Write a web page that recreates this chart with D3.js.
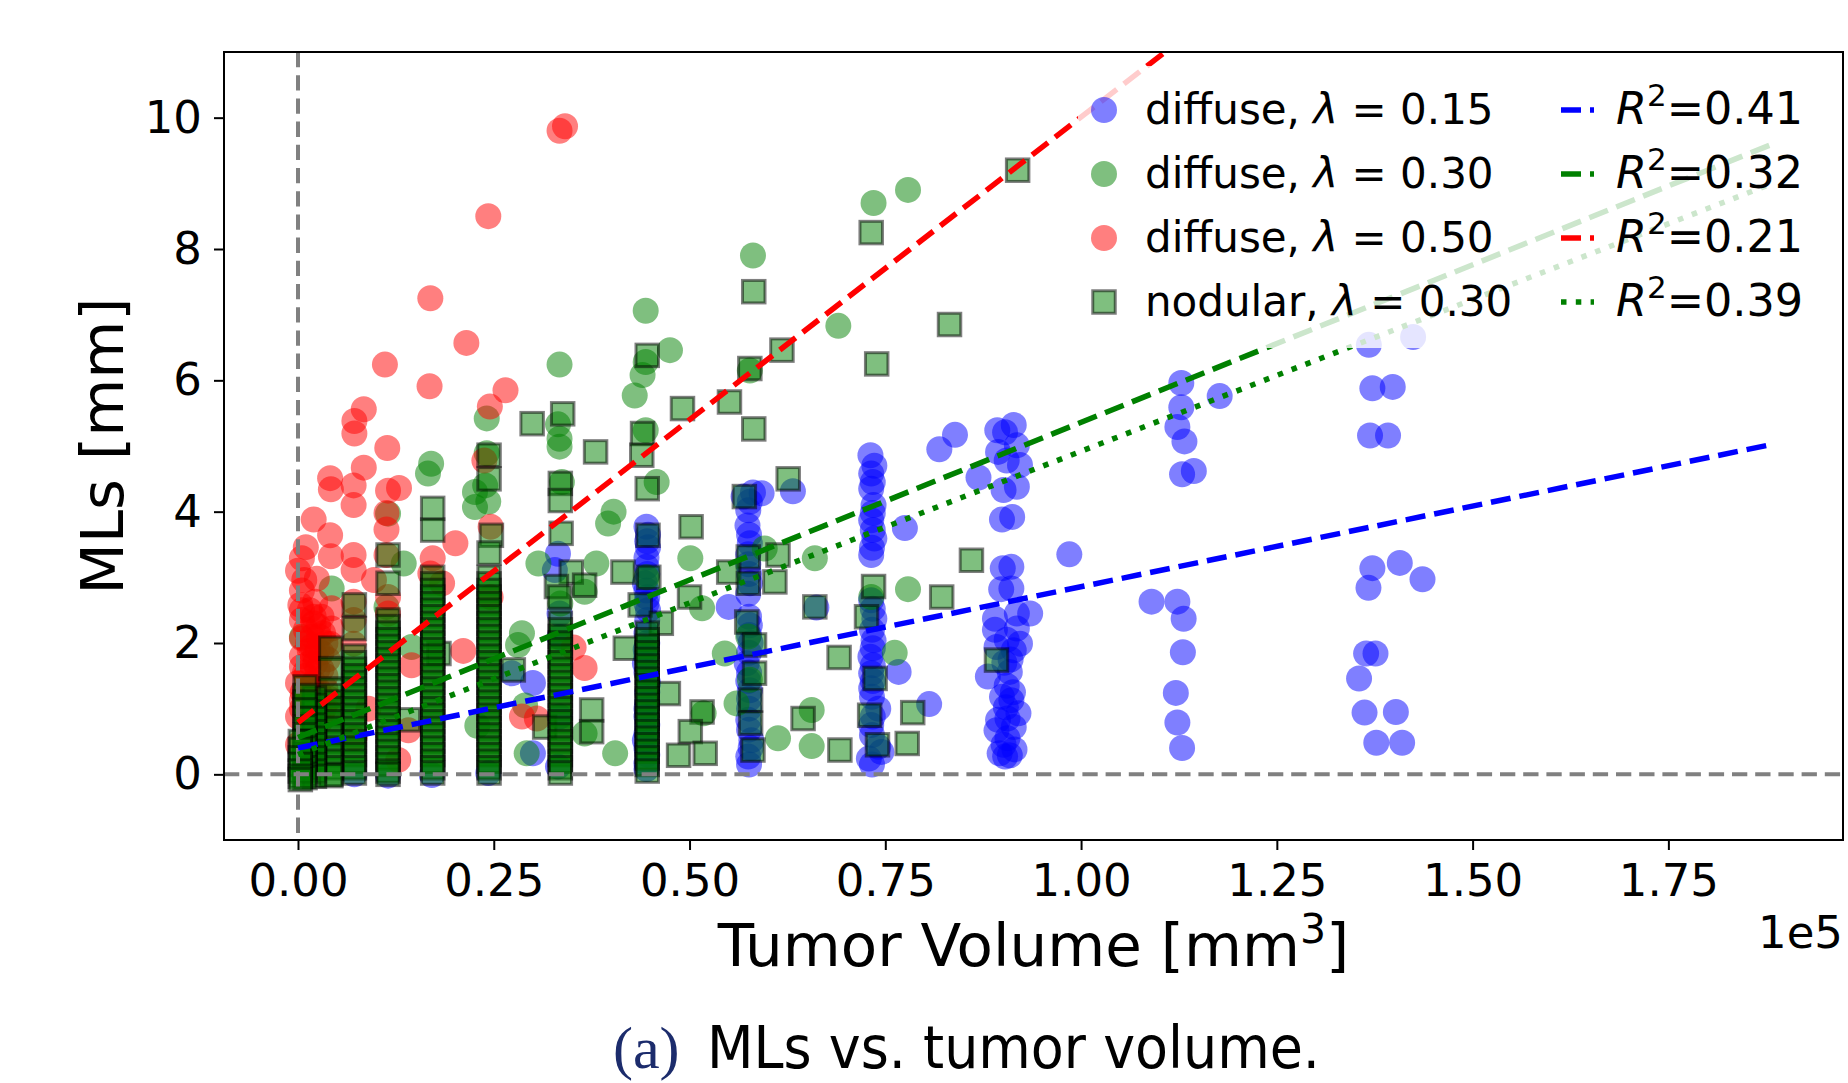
<!DOCTYPE html>
<html>
<head>
<meta charset="utf-8">
<script src="https://cdn.jsdelivr.net/npm/d3@7/dist/d3.min.js"></script>
<style>
  html, body { margin: 0; padding: 0; background: #fff; }
  svg { display: block; }
  text { font-family: "DejaVu Sans", sans-serif; fill: #000; }
</style>
</head>
<body>
<svg id="chart" width="1848" height="1083"></svg>
<script>
// ---------------- DATA (x = tumor volume in mm^3, y = MLs in mm) ----------------
const xTicks = [0, 25000, 50000, 75000, 100000, 125000, 150000, 175000];
const yTicks = [0, 2, 4, 6, 8, 10];

const seriesKinds   = ["diffuse", "diffuse", "diffuse", "nodular"];
const seriesLambdas = ["0.15", "0.30", "0.50", "0.30"];

const fitR2          = ["0.41", "0.32", "0.21", "0.39"];
const fitIntercepts  = [0.40, 0.56, 0.79, 0.30];      // mm at volume 0
const fitSlopes      = [2.457, 4.80, 9.22, 4.62];     // mm per 1e5 mm^3
const fitVolumeRange = [0, 188000];

const diffuse015 = [
  [33200,3.36],[32800,3.11],[33400,2.45],[33400,2.09],[33400,0.88],[33200,0.12],[27300,1.54],[30000,1.39],[30000,0.32],
  [24300,0.02],[11500,-0.02],[17100,-0.01],[7200,0.00],
  [44500,3.77],[44700,3.65],[44600,3.55],[44700,3.46],[44500,3.30],[44500,3.16],[44600,3.05],[44300,2.91],[44500,2.80],
  [44600,2.70],[44500,2.60],[44700,2.50],[44600,2.35],[44500,2.15],[44600,2.00],[44400,1.90],[44500,1.80],[44300,1.69],
  [44500,1.55],[44700,1.39],[44600,1.25],[44600,1.10],[44500,1.00],[44500,0.88],[44600,0.75],[44500,0.62],[44300,0.52],
  [44500,0.40],[44600,0.30],[44500,0.17],[44500,0.08],
  [56900,4.23],[58100,4.29],[59200,4.28],[57700,4.15],[57500,4.02],[57400,3.79],[57600,3.65],[57700,3.52],[57500,3.35],
  [57500,3.20],[57600,3.05],[57700,2.91],[57500,2.75],[55000,2.55],[57600,2.40],[57700,2.27],[57600,2.12],[57800,2.00],
  [57600,1.85],[57300,1.69],[57600,1.55],[57500,1.42],[57700,1.28],[57600,1.15],[57600,1.00],[57500,0.83],[57600,0.68],
  [57900,0.52],[57800,0.40],[57500,0.27],[57600,0.15],
  [63200,4.31],[66200,2.54],[76700,1.56],[80600,1.07],[77500,3.75],[81900,4.95],[83900,5.17],[86900,4.52],[98500,3.35],
  [73100,4.86],[73600,4.70],[73200,4.58],[73400,4.45],[73200,4.35],[73500,4.10],[73400,3.98],[73200,3.87],[73400,3.72],
  [73600,3.59],[73300,3.45],[73200,3.34],[73200,2.65],[73400,2.52],[73600,2.37],[73300,2.20],[73500,2.04],[73400,1.92],
  [73100,1.79],[73400,1.66],[73200,1.54],[73400,1.42],[73200,1.31],[73300,1.18],[74100,1.00],[73400,0.88],[73200,0.75],
  [73300,0.60],[74100,0.42],[72900,0.24],[74500,0.34],[73300,0.15],
  [89300,5.24],[91400,5.32],[90300,5.21],[91800,5.01],[89400,4.91],[90500,4.78],[92200,4.71],[90100,4.33],[91800,4.38],
  [89900,3.88],[91200,3.92],[90000,3.14],[91100,3.16],[89800,2.82],[91100,2.83],[89000,2.37],[91800,2.45],[93500,2.45],
  [89000,2.20],[91800,2.22],[92200,1.99],[89200,1.94],[91400,1.89],[90500,2.05],[88100,1.49],[90900,1.56],[90200,1.70],
  [89900,1.18],[91100,1.13],[90500,1.35],[91300,1.25],[92000,0.93],[89400,0.83],[90400,1.02],[91400,0.72],[89200,0.67],
  [90600,0.85],[89600,0.32],[90900,0.29],[90300,0.27],[90600,0.55],[91000,1.75],[90100,0.45],[91500,0.38],
  [112800,5.96],[117700,5.76],[112800,5.59],[112300,5.29],[113200,5.07],[112900,4.57],[114400,4.62],[109000,2.63],
  [112300,2.63],[113100,2.37],[113000,1.86],[112100,1.24],[112300,0.79],[112900,0.40],
  [136750,6.54],[142400,6.66],[137200,5.88],[139800,5.90],[136900,5.16],[139200,5.16],[137200,3.14],[140700,3.22],
  [143600,2.97],[136700,2.84],[136400,1.84],[137600,1.84],[135500,1.46],[136200,0.94],[140200,0.95],[137700,0.48],[141000,0.48]
];

const diffuse030 = [
  [77900,8.90],[73500,8.70],[58100,7.90],[44400,7.06],[69000,6.83],[47500,6.46],[44400,6.28],[44000,6.08],[43000,5.77],
  [57700,6.15],[44400,5.24],[33400,6.24],[24100,5.42],[33200,5.33],[33400,5.11],[33400,4.99],[45800,4.45],[40300,4.00],
  [39600,3.82],[24100,4.89],[23900,4.40],[24300,4.15],[30700,3.21],[38100,3.21],[50100,3.29],[51600,2.53],[28600,2.15],
  [28100,1.97],[29000,1.05],[36600,2.78],[36600,0.62],[40500,0.32],[29200,0.32],[51800,0.93],[54500,1.84],[17000,4.73],
  [16600,4.58],[22600,4.30],[22600,4.07],[11500,3.97],[13500,3.21],[4300,2.83],[500,2.09],[14500,1.94],[22900,0.74],
  [11300,2.55],[59600,3.44],[66000,3.29],[77900,2.82],[76200,1.85],[56000,1.08],[65600,0.98],[61300,0.55],[65600,0.43],
  [73200,2.70],[57700,1.44],[33700,4.45],[33500,2.60],[44500,3.00],[57500,2.10]
];

const diffuse050 = [
  [33400,9.80],[34100,9.87],[24300,8.50],[16900,7.25],[21500,6.57],[11100,6.24],[16800,5.91],[26500,5.85],[24500,5.60],
  [8400,5.56],[7200,5.38],[7200,5.19],[11400,4.97],[8400,4.67],[4100,4.51],[4200,4.34],[7100,4.40],[7100,4.10],[11500,4.32],
  [12900,4.36],[11300,3.98],[11300,3.73],[2000,3.88],[4100,3.64],[1000,3.46],[500,3.29],[4200,3.32],[7100,3.34],[7100,3.11],
  [800,2.96],[2400,2.98],[20100,3.52],[17200,3.29],[11300,3.34],[300,2.58],[2200,2.63],[4300,2.53],[7100,2.63],[7100,2.35],
  [500,2.35],[2600,2.25],[4300,2.22],[500,2.07],[1500,1.89],[500,1.64],[2200,1.69],[4100,1.99],[7100,1.99],[0,0.88],
  [0,1.39],[500,1.13],[11500,2.70],[11500,2.45],[9700,2.96],[16900,3.06],[18400,2.91],[14500,1.66],[21100,1.88],[14100,0.67],
  [12800,0.22],[23800,4.78],[24600,3.77],[24600,2.70],[28600,0.88],[36600,1.62],[35200,1.93],[30500,0.85],
  [1000,1.50],[2000,1.40],[3000,1.60],[1200,1.20],[2500,1.05],[3500,1.30],[800,0.60],[0,0.45],[1500,0.30],[3000,0.90],
  [4000,1.15],[500,2.80],[0,3.10],[1800,2.10],[7200,0.55],[9000,1.00],[2000,2.40],[3000,1.85],
  [500,1.00],[1500,1.10],[2500,1.30],[3500,1.50],[500,1.80],[1500,1.70],[2500,1.90],[3500,2.00],[1000,2.20],[2000,2.30],
  [3000,2.40],[500,2.50],[1500,2.50],[2500,1.60],[3800,1.75],[1200,0.90],[2800,0.80],[4000,0.95],[1800,1.95],[3200,2.15],
  [600,1.25],[1700,1.35],[2900,1.20],[900,1.55],[2200,1.80],[3300,1.00],[1300,2.00],[2700,2.10]
];

// nodular: scattered squares
const nodularScattered = [
  [91900,9.20],[73200,8.25],[58200,7.35],[83200,6.85],[61800,6.46],[44600,6.38],[73900,6.25],[57700,6.18],[55100,5.67],
  [49100,5.57],[33800,5.49],[29900,5.34],[58200,5.26],[44000,5.19],[43900,4.86],[38000,4.91],[62600,4.50],[44600,4.35],
  [57000,4.23],[50200,3.77],[34900,3.08],[36600,2.88],[41500,3.08],[41800,1.92],[37500,0.98],[37500,0.65],[31500,0.72],
  [27500,1.59],[43700,2.58],[46400,2.30],[47300,1.23],[51600,0.95],[50100,0.65],[48600,0.29],[52000,0.32],[50000,2.70],
  [57500,3.31],[55000,3.08],[61300,3.34],[60900,2.93],[57500,2.91],[66000,2.55],[57300,2.32],[58300,1.97],[58300,1.54],
  [57800,1.13],[57800,0.78],[58100,0.37],[69100,1.78],[64500,0.85],[69200,0.37],[73500,2.86],[72600,2.40],[73700,1.46],
  [73000,0.90],[74000,0.45],[78500,0.94],[77800,0.47],[82200,2.70],[86000,3.26],[89200,1.74],[14100,0.83],[18000,1.84],[33000,2.86],
  [33500,4.43],[33500,4.17],[33600,3.67],[33400,2.70],[44700,3.64],[44800,3.00],[24400,4.86],[24400,4.50],[24700,3.64],[24400,3.37],
  [17200,4.05],[17200,3.72],[11500,3.34],[11500,2.91],[7200,2.58],[7200,2.22],[4200,1.92],[4200,1.61]
];

// nodular: densely stacked columns (column volume, MLs values read top to bottom)
const nodularStackVolumes = [33500, 44600, 24400, 17200, 11500, 7200, 4200, 2100, 900, 300];
const nodularStackValues = [
  [2.30,2.20,2.10,2.00,1.90,1.80,1.70,1.60,1.50,1.40,1.30,1.20,1.10,1.00,0.90,0.80,0.70,0.60,0.50,0.40,0.30,0.20,0.10,0.02],
  [2.15,2.05,1.95,1.85,1.75,1.65,1.55,1.45,1.35,1.25,1.15,1.05,0.95,0.85,0.75,0.65,0.55,0.45,0.35,0.25,0.15,0.05],
  [3.00,2.90,2.80,2.70,2.60,2.50,2.40,2.30,2.20,2.10,2.00,1.90,1.80,1.70,1.60,1.50,1.40,1.30,1.20,1.10,1.00,0.90,0.80,0.70,0.60,0.50,0.40,0.30,0.20,0.10,0.02],
  [3.00,2.90,2.80,2.70,2.60,2.50,2.40,2.30,2.20,2.10,2.00,1.90,1.80,1.70,1.60,1.50,1.40,1.30,1.20,1.10,1.00,0.90,0.80,0.70,0.60,0.50,0.40,0.30,0.20,0.10,0.02],
  [2.35,2.25,2.15,2.05,1.95,1.85,1.75,1.65,1.55,1.45,1.35,1.25,1.15,1.05,0.95,0.85,0.75,0.65,0.55,0.45,0.35,0.25,0.15,0.05,0.00],
  [1.80,1.70,1.60,1.50,1.40,1.30,1.20,1.10,1.00,0.90,0.80,0.70,0.60,0.50,0.40,0.30,0.20,0.10,0.02],
  [1.30,1.20,1.10,1.00,0.90,0.80,0.70,0.60,0.50,0.40,0.30,0.20,0.10,0.00,-0.02],
  [1.16,1.05,0.95,0.85,0.75,0.65,0.55,0.45,0.35,0.25,0.15,0.05,-0.03],
  [1.33,1.20,1.10,0.98,0.85,0.72,0.60,0.50,0.40,0.30,0.20,0.10,0.00,-0.05],
  [0.50,0.38,0.25,0.15,0.05,-0.03,-0.08]
];

// ---------------- LAYOUT ----------------
const svg = d3.select("#chart");
const plot = { left: 224, right: 1843, top: 52, bottom: 840 };
const xDomain = [-9450, 197300];
const yDomain = [-1, 11];

const x = d3.scaleLinear().domain(xDomain).range([plot.left, plot.right]);
const y = d3.scaleLinear().domain(yDomain).range([plot.bottom, plot.top]);

svg.append("rect").attr("width", 1848).attr("height", 1083).attr("fill", "#fff");

svg.append("defs").append("clipPath").attr("id", "plotclip")
  .append("rect").attr("x", plot.left).attr("y", plot.top)
  .attr("width", plot.right - plot.left).attr("height", plot.bottom - plot.top);

const g = svg.append("g").attr("clip-path", "url(#plotclip)");

const circleR = 13;
const sqSide = 22.5;
const colors = ["#0000ff", "#008000", "#ff0000"];
const circleSets = [diffuse015, diffuse030, diffuse050];

circleSets.forEach((set, i) => {
  g.append("g").selectAll("circle").data(set).join("circle")
    .attr("cx", d => x(d[0])).attr("cy", d => y(d[1])).attr("r", circleR)
    .attr("fill", colors[i]).attr("fill-opacity", 0.5);
});

const nodular030 = nodularScattered.slice();
nodularStackVolumes.forEach((v, i) => nodularStackValues[i].forEach(m => nodular030.push([v, m])));

g.append("g").selectAll("rect").data(nodular030).join("rect")
  .attr("x", d => x(d[0]) - sqSide / 2).attr("y", d => y(d[1]) - sqSide / 2)
  .attr("width", sqSide).attr("height", sqSide)
  .attr("fill", "#008000").attr("fill-opacity", 0.5)
  .attr("stroke", "#000").attr("stroke-opacity", 0.5).attr("stroke-width", 3);

// reference lines at 0
g.append("line").attr("x1", x(0)).attr("x2", x(0)).attr("y1", plot.top).attr("y2", plot.bottom)
  .attr("stroke", "#808080").attr("stroke-width", 4).attr("stroke-dasharray", "15.3,7.9");
g.append("line").attr("x1", plot.left).attr("x2", plot.right).attr("y1", y(0)).attr("y2", y(0))
  .attr("stroke", "#808080").attr("stroke-width", 4).attr("stroke-dasharray", "15.3,7.9");

// fitted lines
const fitColors = ["#0000ff", "#008000", "#ff0000", "#008000"];
const fitDash = ["20,9", "20,9", "20,9", "5.5,9.3"];
fitR2.forEach((r, i) => {
  const x0 = fitVolumeRange[0], x1 = fitVolumeRange[1];
  g.append("line")
    .attr("x1", x(x0)).attr("y1", y(fitIntercepts[i] + fitSlopes[i] * x0 / 1e5))
    .attr("x2", x(x1)).attr("y2", y(fitIntercepts[i] + fitSlopes[i] * x1 / 1e5))
    .attr("stroke", fitColors[i]).attr("stroke-width", 5.5).attr("stroke-dasharray", fitDash[i]);
});

// ---------------- AXES ----------------
const fs = 45;
const xAxis = d3.axisBottom(x).tickValues(xTicks).tickSize(10).tickPadding(14)
  .tickFormat(d => (d / 1e5).toFixed(2));
const gx = svg.append("g").attr("transform", `translate(0,${plot.bottom})`).call(xAxis);
gx.select(".domain").remove();
gx.selectAll(".tick line").attr("stroke", "#000").attr("stroke-width", 2);
gx.selectAll(".tick text").attr("font-family", "DejaVu Sans").style("font-size", fs + "px").attr("fill", "#000");

const yAxis = d3.axisLeft(y).tickValues(yTicks).tickSize(10).tickPadding(12).tickFormat(d3.format("d"));
const gy = svg.append("g").attr("transform", `translate(${plot.left},0)`).call(yAxis);
gy.select(".domain").remove();
gy.selectAll(".tick line").attr("stroke", "#000").attr("stroke-width", 2);
gy.selectAll(".tick text").attr("font-family", "DejaVu Sans").style("font-size", fs + "px").attr("fill", "#000");

// frame
svg.append("rect").attr("x", plot.left).attr("y", plot.top)
  .attr("width", plot.right - plot.left).attr("height", plot.bottom - plot.top)
  .attr("fill", "none").attr("stroke", "#000").attr("stroke-width", 2);

// axis labels
const xl = svg.append("text").attr("x", (plot.left + plot.right) / 2).attr("y", 966)
  .attr("text-anchor", "middle").style("font-size", "59.5px");
xl.append("tspan").text("Tumor Volume [mm");
xl.append("tspan").attr("dy", -23).style("font-size", "41px").text("3");
xl.append("tspan").attr("dy", 23).text("]");

svg.append("text").attr("transform", `translate(123,${(plot.top + plot.bottom) / 2}) rotate(-90)`)
  .attr("text-anchor", "middle").style("font-size", "59.5px").text("MLs [mm]");

svg.append("text").attr("x", plot.right).attr("y", 948).attr("text-anchor", "end")
  .style("font-size", fs + "px").text("1e5");

// ---------------- LEGEND ----------------
const leg = svg.append("g");
leg.append("rect").attr("x", 1078).attr("y", 66).attr("width", 752).attr("height", 282)
  .attr("rx", 8).attr("fill", "#fff").attr("fill-opacity", 0.8);

const rowY = [110, 174, 238, 302];
seriesKinds.forEach((k, i) => {
  const cy = rowY[i];
  if (i < 3) {
    leg.append("circle").attr("cx", 1104).attr("cy", cy).attr("r", circleR)
      .attr("fill", colors[i]).attr("fill-opacity", 0.5);
  } else {
    leg.append("rect").attr("x", 1104 - sqSide / 2).attr("y", cy - sqSide / 2)
      .attr("width", sqSide).attr("height", sqSide)
      .attr("fill", "#008000").attr("fill-opacity", 0.5)
      .attr("stroke", "#000").attr("stroke-opacity", 0.5).attr("stroke-width", 3);
  }
  const t = leg.append("text").attr("x", 1145).attr("y", cy + 14).style("font-size", "42px");
  t.append("tspan").text(k + ", ");
  t.append("tspan").style("font-style", "italic").text("λ");
  t.append("tspan").text(" = " + seriesLambdas[i]);
});

fitR2.forEach((r, i) => {
  const cy = rowY[i];
  leg.append("line").attr("x1", 1561).attr("x2", 1594).attr("y1", cy).attr("y2", cy)
    .attr("stroke", fitColors[i]).attr("stroke-width", 5.5).attr("stroke-dasharray", fitDash[i]);
  const t = leg.append("text").attr("x", 1616).attr("y", cy + 14).style("font-size", "44.5px");
  t.append("tspan").style("font-style", "italic").text("R");
  t.append("tspan").attr("dy", -18).style("font-size", "31px").text("2");
  t.append("tspan").attr("dy", 18).text("=" + r);
});

// ---------------- CAPTION ----------------
svg.append("text").attr("x", 613).attr("y", 1068)
  .style("font-family", "'Liberation Serif', serif").style("font-size", "60px")
  .style("fill", "#1c2c6c").text("(a)");
svg.append("text").attr("x", 707).attr("y", 1068).style("font-size", "58px")
  .attr("textLength", 613).attr("lengthAdjust", "spacingAndGlyphs")
  .text("MLs vs.  tumor volume.");
</script>
</body>
</html>
